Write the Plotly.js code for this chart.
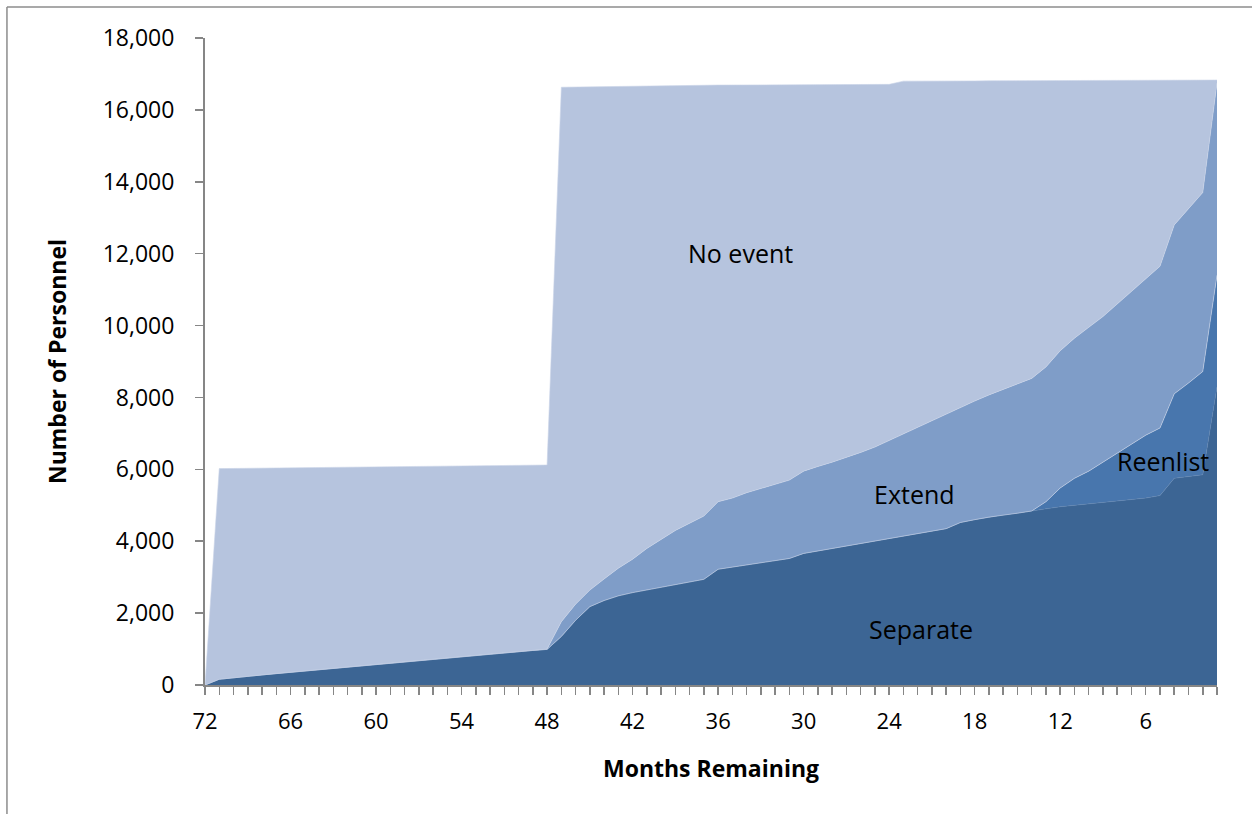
<!DOCTYPE html>
<html>
<head>
<meta charset="utf-8">
<script src="https://cdn.plot.ly/plotly-3.0.1.min.js"></script>
<style>html,body{margin:0;padding:0;background:#fff;}#chart{width:1252px;height:814px;}</style>
</head>
<body>
<div id="chart"></div>
<script>
// Months remaining, 72 down to 1
const months = [72,71,70,69,68,67,66,65,64,63,62,61,60,59,58,57,56,55,54,53,52,51,50,49,48,
  47,46,45,44,43,42,41,40,39,38,37,36,35,34,33,32,31,30,29,28,27,26,25,24,23,22,21,20,19,18,17,16,15,14,13,12,11,10,9,8,7,6,5,4,3,2,1];

// Cumulative boundary levels
const separateLevel = [0,160,200,240,280,320,360,400,440,475,510,545,580,615,650,685,720,755,790,825,860,895,925,960,990,
  1350,1800,2180,2350,2480,2570,2660,2730,2800,2870,2940,3220,3280,3330,3400,3460,3520,3660,3720,3790,3850,3920,3990,4070,4140,4210,4280,4350,4520,4600,4670,4730,4780,4830,4900,4960,5000,5040,5080,5120,5160,5200,5270,5750,5800,5850,8300];
const reenlistLevel = [0,160,200,240,280,320,360,400,440,475,510,545,580,615,650,685,720,755,790,825,860,895,925,960,990,
  1350,1800,2180,2350,2480,2570,2660,2730,2800,2870,2940,3220,3280,3330,3400,3460,3520,3660,3720,3790,3850,3920,3990,4070,4140,4210,4280,4350,4520,4600,4670,4730,4780,4840,5100,5480,5750,5950,6200,6450,6700,6950,7150,8100,8400,8720,11400];
const extendLevel = [0,160,200,240,280,320,360,400,440,475,510,545,580,615,650,685,720,755,790,825,860,895,925,960,1000,
  1760,2250,2640,2950,3250,3500,3800,4050,4300,4500,4700,5100,5200,5350,5480,5580,5700,5950,6080,6200,6330,6470,6620,6800,6980,7160,7350,7530,7720,7900,8070,8230,8380,8530,8850,9300,9650,9950,10250,10600,10950,11300,11650,12800,13250,13700,16750];
const totalLevel = [0,6020,6025,6030,6035,6040,6045,6050,6055,6060,6065,6070,6075,6080,6085,6090,6095,6100,6105,6105,6110,6110,6115,6115,6120,
  16630,16640,16645,16650,16655,16660,16665,16670,16675,16680,16685,16690,16690,16695,16695,16700,16700,16700,16705,16705,16705,16710,16710,16710,16800,16800,16800,16805,16805,16805,16810,16810,16810,16815,16815,16815,16820,16820,16820,16825,16825,16825,16830,16830,16830,16830,16830];

// Series values (non-cumulative)
const separate = separateLevel.slice();
const reenlist = reenlistLevel.map((v,i)=>v - separateLevel[i]);
const extend = extendLevel.map((v,i)=>v - reenlistLevel[i]);
const noEvent = totalLevel.map((v,i)=>v - extendLevel[i]);

const seriesNames = ['Separate','Reenlist','Extend','No event'];
const seriesColors = ['#3c6594','#4876ad','#7f9dc8','#b6c4de'];
const seriesData = [separate, reenlist, extend, noEvent];

const traces = seriesData.map((d,i)=>({
  x: months, y: d, name: seriesNames[i], type:'scatter', mode:'lines',
  stackgroup:'one', line:{width:0.6, color: i===0 ? '#5a80ad' : '#c9d4e8', shape:'linear'},
  fillcolor: seriesColors[i], hoverinfo:'x+y+name'
}));

const fontFam = 'Open Sans, Lato, sans-serif';
const layout = {
  width:1252, height:814,
  margin:{l:205, r:35, t:38, b:129},
  paper_bgcolor:'#ffffff', plot_bgcolor:'#ffffff',
  showlegend:false,
  font:{family:fontFam, color:'#000000', size:22},
  xaxis:{
    range:[72,1], tickmode:'linear', tick0:0, dtick:6,
    ticks:'outside', ticklen:8, tickwidth:1.5, tickcolor:'#868686',
    minor:{ticks:'outside', dtick:1, tick0:0, ticklen:8, tickwidth:1.5, tickcolor:'#868686'},
    showline:true, linecolor:'#868686', linewidth:2,
    showgrid:false, zeroline:false,
    tickfont:{family:fontFam, size:22, color:'#000'},
    ticklabelstandoff:8,
    title:{text:'<b>Months Remaining</b>', font:{family:fontFam, size:23, color:'#000'}, standoff:26}
  },
  yaxis:{
    range:[0,18000], tickmode:'linear', tick0:0, dtick:2000,
    tickformat:',d',
    ticks:'outside', ticklen:8, tickwidth:1.5, tickcolor:'#868686',
    showline:true, linecolor:'#868686', linewidth:2,
    showgrid:false, zeroline:false,
    tickfont:{family:fontFam, size:23, color:'#000'},
    ticklabelstandoff:16,
    title:{text:'<b>Number of Personnel</b>', font:{family:fontFam, size:23, color:'#000'}, standoff:30}
  },
  annotations:[
    {x:34.4, y:12030, text:'No event', showarrow:false, font:{family:fontFam, size:25, color:'#000'}},
    {x:22.2, y:5310, text:'Extend', showarrow:false, font:{family:fontFam, size:25, color:'#000'}},
    {x:4.8, y:6230, text:'Reenlist', showarrow:false, font:{family:fontFam, size:25, color:'#000'}},
    {x:21.8, y:1560, text:'Separate', showarrow:false, font:{family:fontFam, size:25, color:'#000'}}
  ],
  shapes:[
    {type:'line', xref:'paper', yref:'paper', x0:-0.1957, x1:1.04, y0:1.048, y1:1.048, line:{color:'#8c8c8c', width:1.5}},
    {type:'line', xref:'paper', yref:'paper', x0:-0.1957, x1:-0.1957, y0:1.048, y1:-0.21, line:{color:'#8c8c8c', width:1.5}}
  ]
};

Plotly.newPlot('chart', traces, layout, {displayModeBar:false, staticPlot:true});
</script>
</body>
</html>
